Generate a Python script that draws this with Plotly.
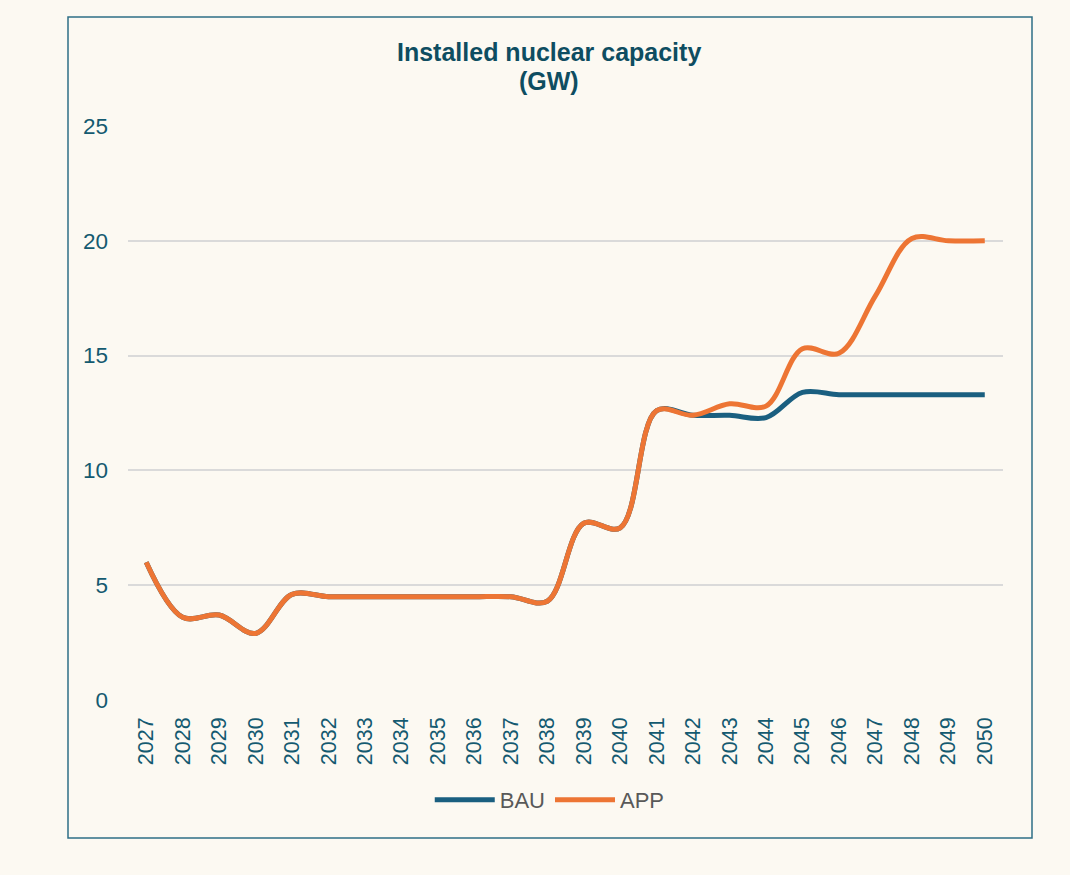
import plotly.graph_objects as go

years = list(range(2027, 2051))
bau = [6.0, 3.6, 3.7, 2.9, 4.6, 4.5, 4.5, 4.5, 4.5, 4.5, 4.5, 4.3,
       7.7, 7.5, 12.6, 12.4, 12.4, 12.3, 13.4, 13.3, 13.3, 13.3, 13.3, 13.3]
app = [6.0, 3.6, 3.7, 2.9, 4.6, 4.5, 4.5, 4.5, 4.5, 4.5, 4.5, 4.3,
       7.7, 7.5, 12.6, 12.4, 12.9, 12.8, 15.3, 15.1, 17.6, 20.1, 20.0, 20.0]

BG = "#FCF9F2"
TEAL = "#0E4D61"
FONT = "Liberation Sans, Arial, sans-serif"

fig = go.Figure()
fig.add_trace(go.Scatter(x=years, y=bau, name="BAU", mode="lines",
                         line=dict(color="#1A5F80", width=5, shape="spline", smoothing=1)))
fig.add_trace(go.Scatter(x=years, y=app, name="APP", mode="lines",
                         line=dict(color="#ED7534", width=5, shape="spline", smoothing=1)))

# two-line title as annotations so the line spacing matches
title_font = dict(size=25, color=TEAL, family=FONT)
fig.add_annotation(text="<b>Installed nuclear capacity</b>", xref="paper", yref="paper",
                   x=(549 - 128) / 875, y=(700 - 52) / 574, xanchor="center", yanchor="middle",
                   showarrow=False, font=title_font)
fig.add_annotation(text="<b>(GW)</b>", xref="paper", yref="paper",
                   x=(549 - 128) / 875, y=(700 - 81) / 574, xanchor="center", yanchor="middle",
                   showarrow=False, font=title_font)

fig.update_layout(
    width=1070, height=875,
    paper_bgcolor=BG, plot_bgcolor=BG,
    margin=dict(l=128, r=67, t=126, b=175),
    font=dict(family=FONT, color=TEAL),
    showlegend=True,
    legend=dict(orientation="h", x=0.482, xanchor="center", y=-0.174, yanchor="middle",
                font=dict(size=22, color="#595959", family=FONT),
                bgcolor="rgba(0,0,0,0)", itemwidth=60),
    xaxis=dict(range=[2026.5, 2050.5], tickmode="array", tickvals=years,
               ticktext=[str(y) for y in years], tickangle=-90,
               showgrid=False, zeroline=False, showline=False, ticks="",
               tickfont=dict(size=21.5, color="#145A70"), ticklabelstandoff=12),
    yaxis=dict(range=[0, 25], dtick=5, showgrid=True, gridcolor="#DADADA", gridwidth=1.8,
               zeroline=False, showline=False, ticks="",
               tickfont=dict(size=22.5, color="#145A70"), ticklabelstandoff=19),
    shapes=[dict(type="rect", xref="paper", yref="paper",
                 x0=(68 - 128) / 875, x1=(1032 - 128) / 875,
                 y0=(700 - 838) / 574, y1=(700 - 17) / 574,
                 line=dict(color="#2E6F86", width=1.5), fillcolor="rgba(0,0,0,0)",
                 layer="below")],
)

# drop the page margin so the chart fills the window like the reference
page_fix = ("document.body.style.margin='0';"
            "document.body.style.background='" + BG + "';")
fig.write_html("out.html", post_script=page_fix, config={"displayModeBar": False})
